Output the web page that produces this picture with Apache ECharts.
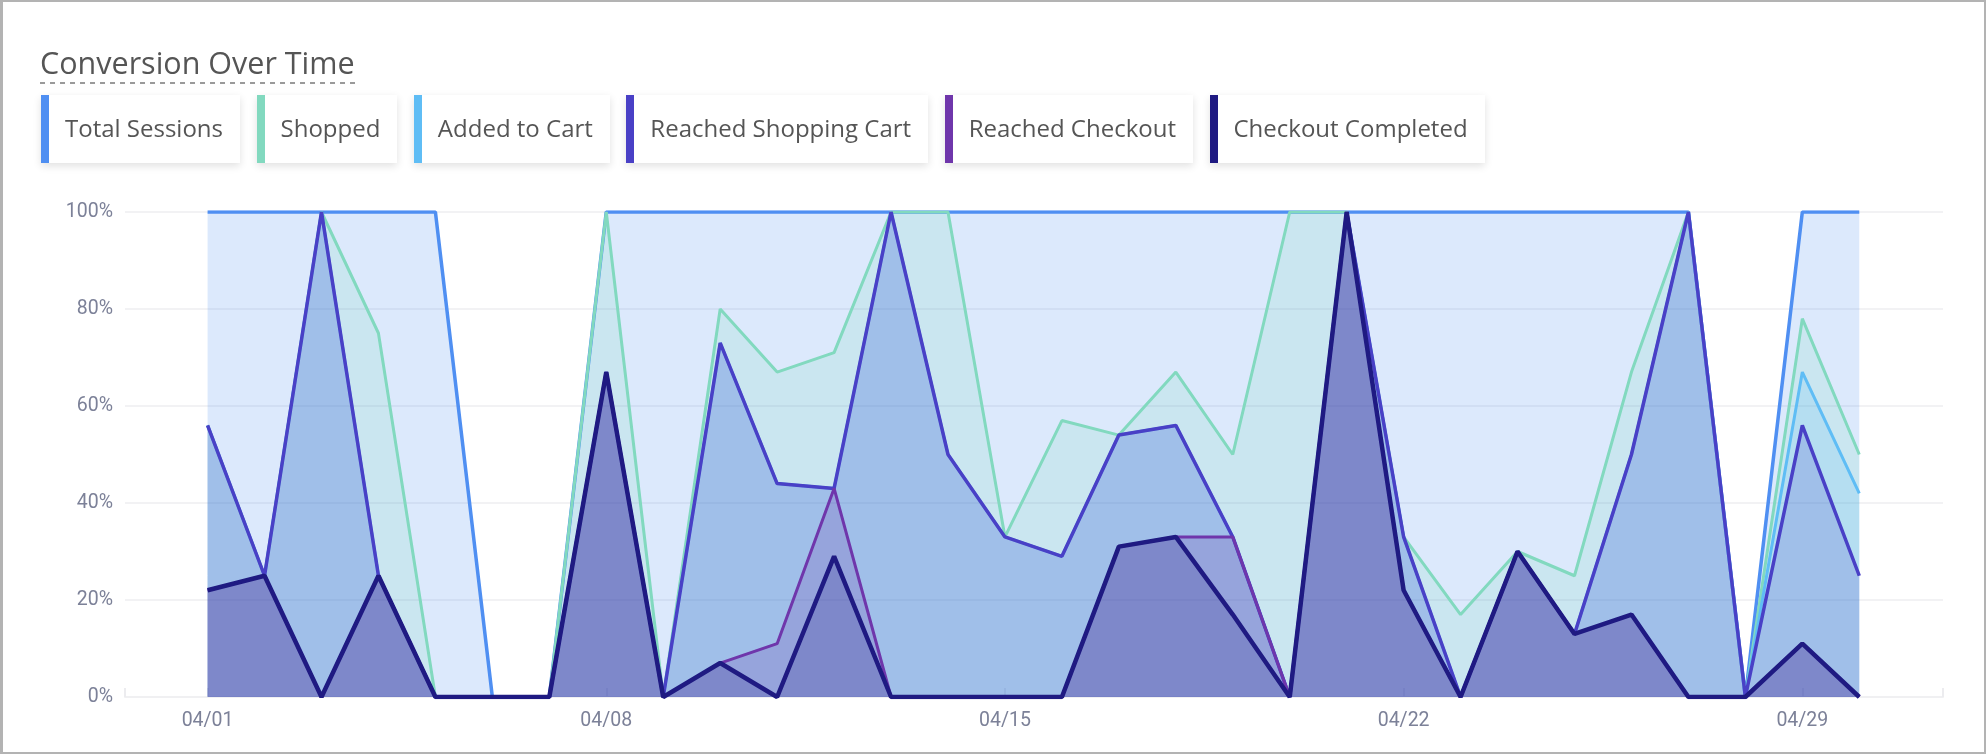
<!DOCTYPE html>
<html>
<head>
<meta charset="utf-8">
<title>Conversion Over Time</title>
<script src="https://cdn.jsdelivr.net/npm/echarts@6.0.0/dist/echarts.min.js"></script>
<style>
	html, body {
		margin: 0;
		padding: 0;
		background: #fff;
	}
	.page {
		position: relative;
		width: 1986px;
		height: 754px;
		overflow: hidden;
		font-family: "Open Sans", sans-serif;
	}
	.frame {
		position: absolute;
		left: 0;
		top: 0;
		right: 0;
		bottom: 0;
		box-sizing: border-box;
		border: 2px solid #b3b3b3;
		border-left-width: 3px;
		pointer-events: none;
		z-index: 3;
	}
	#conversionChart {
		position: absolute;
		left: 0;
		top: 0;
		width: 1986px;
		height: 754px;
	}
	.title {
		position: absolute;
		left: 40px;
		top: 47px;
		font-size: 30.5px;
		line-height: 30px;
		color: #555;
		padding-bottom: 7px;
		/* dashed underline */
		background: linear-gradient(to right, #9a9a9a 50%, rgba(255, 255, 255, 0) 50%) left bottom / 10px 2px repeat-x;
		z-index: 2;
	}
	.legend {
		position: absolute;
		left: 41px;
		top: 95px;
		display: flex;
		gap: 16.5px;
		z-index: 2;
	}
	.legend-item {
		height: 68px;
		line-height: 66px;
		padding: 0 17px 0 16px;
		border-left: 8px solid #000;
		background: #fff;
		font-size: 24px;
		color: #555;
		white-space: nowrap;
		box-shadow: 0 3px 8px rgba(0, 0, 0, 0.12);
	}
</style>
</head>
<body>
<div class="page">
	<div id="conversionChart"></div>
	<div class="title">Conversion Over Time</div>
	<div class="legend" id="legend"></div>
	<div class="frame"></div>
</div>
<script>
// x categories (April), and the days that get a label
var days = ['04/01', '04/02', '04/03', '04/04', '04/05', '04/06', '04/07', '04/08', '04/09', '04/10',
	'04/11', '04/12', '04/13', '04/14', '04/15', '04/16', '04/17', '04/18', '04/19', '04/20',
	'04/21', '04/22', '04/23', '04/24', '04/25', '04/26', '04/27', '04/28', '04/29', '04/30'];
var labelDays = [0, 7, 14, 21, 28];

// percent of sessions per day
var totalSessions = [100, 100, 100, 100, 100, 0, 0, 100, 100, 100,
	100, 100, 100, 100, 100, 100, 100, 100, 100, 100,
	100, 100, 100, 100, 100, 100, 100, 0, 100, 100];
var shopped = [56, 25, 100, 75, 0, 0, 0, 100, 0, 80,
	67, 71, 100, 100, 33, 57, 54, 67, 50, 100,
	100, 33, 17, 30, 25, 67, 100, 0, 78, 50];
var addedToCart = [56, 25, 100, 25, 0, 0, 0, 67, 0, 73,
	44, 43, 100, 50, 33, 29, 54, 56, 33, 0,
	100, 33, 0, 30, 13, 50, 100, 0, 67, 42];
var reachedShoppingCart = [56, 25, 100, 25, 0, 0, 0, 67, 0, 73,
	44, 43, 100, 50, 33, 29, 54, 56, 33, 0,
	100, 33, 0, 30, 13, 50, 100, 0, 56, 25];
var reachedCheckout = [22, 25, 0, 25, 0, 0, 0, 67, 0, 7,
	11, 43, 0, 0, 0, 0, 31, 33, 33, 0,
	100, 22, 0, 30, 13, 17, 0, 0, 11, 0];
var checkoutCompleted = [22, 25, 0, 25, 0, 0, 0, 67, 0, 7,
	0, 29, 0, 0, 0, 0, 31, 33, 17, 0,
	100, 22, 0, 30, 13, 17, 0, 0, 11, 0];

var seriesNames = ['Total Sessions', 'Shopped', 'Added to Cart', 'Reached Shopping Cart', 'Reached Checkout', 'Checkout Completed'];
var seriesValues = [totalSessions, shopped, addedToCart, reachedShoppingCart, reachedCheckout, checkoutCompleted];
var seriesColors = ['#4f8ff2', '#82d9bf', '#5fbdf5', '#4940c6', '#6f36ab', '#1f1a82'];
var lineWidths = [3.5, 3, 3, 3.5, 3, 4.5];

var axisTextColor = '#7c8198';

function toPoints(values) {
	var points = [];
	for(var i = 0; i < values.length; i++) {
		points.push([i, values[i]]);
	}
	return points;
}

function renderLegend() {
	var box = document.getElementById('legend');
	for(var i = 0; i < seriesNames.length; i++) {
		var item = document.createElement('div');
		item.className = 'legend-item';
		item.style.borderLeftColor = seriesColors[i];
		item.textContent = seriesNames[i];
		box.appendChild(item);
	}
}

function renderChart() {
	var myChart = echarts.init(document.getElementById('conversionChart'));
	var xMin = -1.45;
	var xMax = 30.47;
	var series = [];
	for(var i = 0; i < seriesNames.length; i++) {
		series.push({
			name: seriesNames[i],
			type: 'line',
			showSymbol: false,
			symbol: 'none',
			color: seriesColors[i],
			lineStyle: {
				width: lineWidths[i],
				color: seriesColors[i]
			},
			areaStyle: {
				color: seriesColors[i],
				opacity: 0.2
			},
			emphasis: {
				disabled: true
			},
			data: toPoints(seriesValues[i])
		});
	}
	var option = {
		animation: false,
		grid: {
			left: 125,
			right: 43,
			top: 212,
			bottom: 57
		},
		xAxis: {
			type: 'value',
			min: xMin,
			max: xMax,
			axisLine: {
				show: true,
				lineStyle: {
					color: '#f0f0f2',
					width: 2
				}
			},
			axisTick: {
				show: true,
				inside: true,
				length: 9,
				customValues: [xMin].concat(labelDays, [xMax]),
				lineStyle: {
					color: '#ececef',
					width: 2
				}
			},
			axisLabel: {
				customValues: labelDays,
				formatter: function(value) {
					return days[value];
				},
				color: axisTextColor,
				fontFamily: 'Roboto',
				fontSize: 19.5,
				margin: 14
			},
			splitLine: {
				show: false
			}
		},
		yAxis: {
			type: 'value',
			min: 0,
			max: 100,
			interval: 20,
			axisLine: {
				show: false
			},
			axisTick: {
				show: false
			},
			axisLabel: {
				formatter: '{value}%',
				color: axisTextColor,
				fontFamily: 'Roboto',
				fontSize: 19.5,
				margin: 12
			},
			splitLine: {
				lineStyle: {
					color: '#f2f2f4',
					width: 2
				}
			}
		},
		series: series
	};
	myChart.setOption(option);
}

renderLegend();
renderChart();
</script>
</body>
</html>
